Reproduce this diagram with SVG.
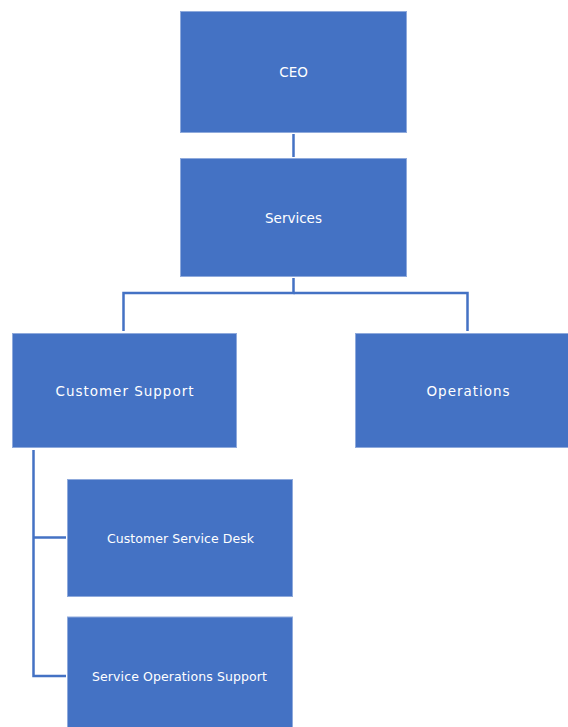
<svg xmlns="http://www.w3.org/2000/svg" width="568" height="727" viewBox="0 0 568 727">
<style>
.box{fill:#4472C4;stroke:#8FAADC;stroke-width:1}
.lbl{fill:#FFFFFF;font-family:"DejaVu Sans","Liberation Sans",sans-serif;font-size:13.5px;text-anchor:middle;dominant-baseline:central}
.sm{font-size:12.5px}
.conn{fill:none;stroke:#4472C4;stroke-width:2.5}
</style>
<rect width="568" height="727" fill="#FFFFFF"/>
<g id="connectors">
<line class="conn" x1="293.5" y1="134" x2="293.5" y2="157"/>
<polyline class="conn" points="293.5,278 293.5,293 123.5,293 123.5,331"/>
<polyline class="conn" points="293.5,293 467.5,293 467.5,331"/>
<polyline class="conn" points="33.5,450 33.5,676 66,676"/>
<line class="conn" x1="33.5" y1="537.5" x2="66" y2="537.5"/>
</g>
<g id="ceo"><rect class="box" x="180.5" y="11.5" width="226" height="121"/><text class="lbl" x="293.5" y="72">CEO</text></g>
<g id="services"><rect class="box" x="180.5" y="158.5" width="226" height="118"/><text class="lbl" x="293.5" y="218">Services</text></g>
<g id="customer-support"><rect class="box" x="12.5" y="333.5" width="224" height="114"/><text class="lbl" x="124.5" y="391" textLength="138" lengthAdjust="spacing">Customer Support</text></g>
<g id="operations"><rect class="box" x="355.5" y="333.5" width="213" height="114"/><text class="lbl" x="468" y="391" textLength="83" lengthAdjust="spacing">Operations</text></g>
<g id="customer-service-desk"><rect class="box" x="67.5" y="479.5" width="225" height="117"/><text class="lbl sm" x="180.5" y="538" textLength="147" lengthAdjust="spacing">Customer Service Desk</text></g>
<g id="service-operations-support"><rect class="box" x="67.5" y="617" width="225" height="112"/><text class="lbl sm" x="179.5" y="676" textLength="175" lengthAdjust="spacing">Service Operations Support</text></g>
</svg>
